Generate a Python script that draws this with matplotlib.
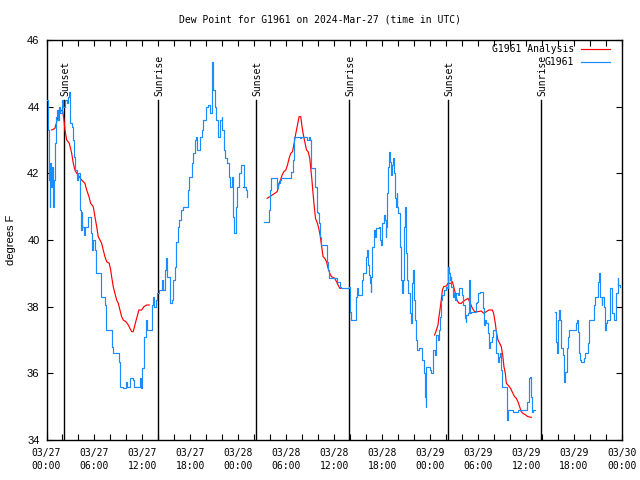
import matplotlib
matplotlib.use("Agg")
import matplotlib.pyplot as plt
from matplotlib.ticker import MultipleLocator
import numpy as np

# ---------------- data (hours since 2024-03-27 00:00 UTC, degrees F) -------------
obs1_h = [0.05, 0.2, 0.3, 0.4, 0.5, 0.6, 0.7, 0.8, 0.9, 1.05, 1.15, 1.3, 1.45, 1.6, 1.75, 1.9, 2.05,
          2.3, 2.55, 2.7, 2.8, 2.95, 3.0, 3.15, 3.3, 3.45, 3.6, 3.8, 3.95, 4.15, 4.2, 4.35, 4.45, 4.5,
          4.65, 4.8, 5.2, 5.45, 5.55, 5.65, 5.85, 6.05, 6.2, 6.7, 6.8, 7.2, 7.3, 7.45, 7.9, 8.15, 8.3,
          9.0, 9.1, 9.2, 9.6, 9.9, 10.1, 10.45, 10.85, 10.98, 11.5, 11.7, 11.8, 12.0, 12.2, 12.45,
          12.6, 12.95, 13.15, 13.3, 13.45, 13.7, 13.85, 14.1, 14.4, 14.6, 14.8, 15.0, 15.1, 15.45,
          15.65, 15.85, 16.05, 16.25, 16.45, 16.6, 16.85, 17.05, 17.5, 17.65, 17.85, 18.15, 18.35,
          18.55, 18.75, 18.85, 19.15, 19.4, 19.6, 19.9, 20.2, 20.45, 20.65, 20.85, 21.05, 21.25,
          21.45, 21.7, 21.9, 22.0, 22.2, 22.3, 22.6, 22.8, 23.0, 23.2, 23.35, 23.5, 23.65, 23.8,
          24.05, 24.3, 24.5, 24.7, 24.9, 25.05]
obs1_v = [44.2, 43.3, 41.8, 41.0, 42.3, 41.6, 42.2, 41.0, 41.8, 42.9, 43.7, 43.9, 43.6, 44.0, 43.8, 44.2, 44.0,
          44.2, 44.1, 44.3, 44.45, 44.2, 43.5, 43.4, 43.0, 42.5, 42.1, 41.8, 42.0, 41.7, 40.9, 40.3, 40.85, 40.4,
          40.15, 40.4, 40.7, 40.7, 40.2, 39.7, 40.0, 39.7, 39.0, 39.0, 38.3, 38.3, 38.05, 37.3, 37.3, 36.8, 36.6,
          36.6, 36.35, 35.6, 35.55, 35.75, 35.6, 35.85, 35.8, 35.6, 35.6, 35.85, 35.55, 36.15, 37.1, 37.6,
          37.3, 37.3, 38.05, 38.3, 38.0, 38.2, 38.4, 38.5, 38.8, 38.5, 39.1, 39.45, 38.9, 38.1,
          38.2, 38.8, 39.2, 39.95, 40.4, 40.6, 40.9, 41.0, 41.0, 41.5, 41.9, 42.3, 42.6,
          43.0, 43.1, 42.7, 43.1, 43.3, 43.6, 44.0, 44.05, 43.8, 45.35, 44.5, 44.0, 43.6,
          43.1, 43.6, 43.7, 43.3, 42.7, 42.45, 42.3, 41.9, 41.6, 41.9, 40.7, 40.2, 41.0, 41.6,
          42.0, 42.25, 42.25, 41.6, 41.5, 41.3]

obs2_h = [27.19, 27.73, 27.81, 27.94, 28.03, 28.56, 28.78, 28.9, 29.0, 29.19, 29.4, 29.81, 30.44, 30.56,
          30.78, 30.85, 30.98, 31.48, 31.69, 31.9, 32.53, 32.63, 32.85, 32.94, 33.15, 33.48, 33.65,
          33.78, 33.98, 34.1, 34.19, 34.31, 34.81, 35.1, 35.23, 35.31, 36.19, 36.35, 36.69, 36.81,
          37.85, 37.94, 38.03, 38.15, 38.56, 38.69, 38.78, 38.9, 38.98, 39.19, 39.48, 39.6, 39.81,
          39.94, 40.03, 40.1, 40.23, 40.35, 40.48, 40.56, 40.65, 40.78, 40.94, 41.06, 41.28, 41.56,
          41.69, 41.9, 42.03, 42.19, 42.31, 42.44, 42.53, 42.65, 42.78, 42.85, 42.98, 43.1, 43.23,
          43.35, 43.48, 43.56, 43.69, 43.81, 43.9, 44.03, 44.19, 44.31, 44.44, 44.56, 44.73, 44.81,
          45.02, 45.1, 45.23, 45.44, 45.65, 45.78, 45.85, 45.98, 46.15, 46.28, 46.4, 46.56, 46.9,
          47.03, 47.19, 47.31, 47.44, 47.53, 47.73, 47.94, 48.15, 48.35, 48.56, 48.69, 48.98, 49.1,
          49.28, 49.4, 49.53, 49.69, 49.94, 50.12, 50.23, 50.35, 50.44, 50.56, 50.65, 50.85, 50.94,
          51.06, 51.28, 51.48, 51.6, 51.81, 51.94, 52.1, 52.31, 52.44, 52.53, 52.73, 52.85, 52.94,
          53.15, 53.56, 53.69, 53.85, 54.03, 54.19, 54.53, 54.6, 54.73, 54.9, 55.03, 55.23, 55.35,
          55.53, 55.69, 55.9, 56.19, 56.28, 56.48, 56.6, 56.78, 56.9, 57.03, 57.44, 57.6, 57.73,
          58.35, 58.78, 58.98, 59.81, 60.15, 60.31, 60.44, 60.56, 60.69, 60.85, 61.06]
obs2_v = [40.55, 40.55, 40.9, 41.5, 41.85, 41.85, 41.75, 41.55, 41.7, 41.8, 41.85, 41.85, 41.85, 42.05,
          42.1, 42.4, 43.1, 43.1, 43.05, 43.1, 43.1, 43.0, 43.1, 43.0, 42.15, 42.15, 41.6,
          40.85, 40.8, 40.5, 40.1, 39.85, 39.85, 39.35, 39.1, 38.85, 38.85, 38.75, 38.6, 38.55,
          38.58, 38.3, 37.85, 37.6, 37.6, 37.85, 38.3, 38.55, 38.35, 38.35, 38.8, 39.0, 39.0,
          39.25, 39.5, 39.7, 39.25, 38.95, 38.7, 38.45, 38.9, 39.8, 40.3, 40.1, 40.35, 40.4,
          40.0, 39.85, 40.5, 40.75, 40.6, 40.1, 40.4, 41.4, 42.2, 42.65, 42.35, 41.95, 42.25,
          42.45, 42.0, 41.25, 41.0, 41.4, 41.0, 40.8, 39.8, 38.8, 38.4, 38.8, 40.4, 41.0,
          39.6, 38.8, 38.4, 37.8, 37.5, 38.7, 39.1, 38.2, 37.6, 37.0, 36.7, 36.75, 36.75,
          36.4, 36.0, 35.3, 35.0, 36.2, 36.2, 36.1, 36.0, 36.7, 36.55, 37.15, 37.0, 37.3,
          37.7, 38.2, 38.35, 38.5, 38.6, 38.55, 39.2, 39.0, 38.8, 38.9, 38.6, 38.3, 38.4,
          38.2, 38.4, 38.35, 38.55, 38.55, 38.35, 38.05, 37.65, 37.55, 37.75, 37.8, 38.8, 37.8,
          37.85, 37.85, 38.1, 38.15, 38.4, 38.45, 38.45, 37.95, 37.45, 37.6, 37.5, 37.2, 36.75,
          36.95, 37.1, 37.3, 37.3, 36.6, 36.35, 36.5, 36.6, 36.1, 35.6, 35.6, 34.6, 34.9,
          34.85, 34.85, 34.9, 34.9, 35.15, 35.85, 35.9, 35.3, 34.85, 34.9, 34.9]

obs3_h = [63.56, 63.69, 63.85, 63.98, 64.1, 64.28, 64.4, 64.56, 64.69, 64.78, 64.85, 64.94, 65.06, 65.19,
          65.35, 66.06, 66.19, 66.35, 66.48, 66.6, 66.78, 66.9, 67.1, 67.23, 67.35, 67.6, 67.73, 67.85,
          68.28, 68.44, 68.6, 68.78, 68.94, 69.06, 69.19, 69.31, 69.44, 69.56, 69.69, 69.85, 69.98,
          70.1, 70.31, 70.44, 70.56, 70.69, 70.81, 70.98, 71.19, 71.31, 71.44, 71.56, 71.69]
obs3_v = [37.85, 36.95, 36.6, 37.6, 37.9, 37.6, 36.75, 36.55, 36.3, 35.75, 36.05, 36.05, 36.75, 37.1,
          37.3, 37.3, 37.5, 37.6, 37.25, 36.6, 36.4, 36.35, 36.35, 36.45, 36.6, 36.6, 36.9, 37.6,
          37.6, 38.05, 38.3, 38.3, 38.75, 39.0, 38.6, 38.3, 38.05, 38.3, 38.0, 37.3, 37.5,
          37.6, 37.6, 37.8, 38.55, 38.3, 37.8, 37.6, 37.6, 38.4, 38.85, 38.65, 38.6]

ana1_h = [0.65, 1.06, 1.28, 1.47, 1.78, 2.03, 2.19, 2.31, 2.53, 2.85, 3.15, 3.35, 3.56, 3.78, 4.1, 4.4,
          4.81, 5.03, 5.31, 5.53, 5.85, 6.06, 6.28, 6.47, 6.69, 6.9, 7.1, 7.31, 7.53, 7.85, 8.03, 8.15,
          8.35, 8.56, 8.78, 8.98, 9.19, 9.4, 9.6, 9.94, 10.23, 10.44, 10.65, 10.85, 11.06, 11.28,
          11.56, 11.9, 12.19, 12.53, 12.85]
ana1_v = [43.3, 43.35, 43.55, 43.75, 43.9, 43.85, 43.6, 43.3, 43.0, 42.9, 42.6, 42.3, 42.1, 42.0, 41.9, 41.8,
          41.7, 41.5, 41.3, 41.1, 41.0, 40.7, 40.4, 40.1, 40.0, 39.9, 39.7, 39.5, 39.35, 39.3, 39.1, 38.9,
          38.6, 38.4, 38.2, 38.1, 37.9, 37.7, 37.6, 37.55, 37.45, 37.35, 37.25, 37.25, 37.45, 37.65,
          37.9, 37.9, 38.0, 38.05, 38.05]

ana2_h = [24.6, 24.8]
ana2_v = [41.6, 41.6]

ana3_h = [27.6, 27.94, 28.23, 28.56, 28.85, 28.98, 29.1, 29.28, 29.48, 29.69, 29.94, 30.15, 30.35, 30.56,
          30.78, 30.98, 31.19, 31.4, 31.6, 31.81, 31.94, 32.1, 32.31, 32.53, 32.73, 32.94, 33.06, 33.19,
          33.31, 33.44, 33.65, 33.9, 34.06, 34.23, 34.4, 34.6, 34.81, 35.03, 35.23, 35.44, 35.65,
          36.06, 36.28, 36.48, 36.69, 36.81]
ana3_v = [41.25, 41.3, 41.35, 41.4, 41.45, 41.55, 41.7, 41.8, 41.95, 42.05, 42.1, 42.25, 42.45, 42.6,
          42.65, 42.9, 43.2, 43.45, 43.7, 43.7, 43.45, 43.2, 42.95, 42.7, 42.65, 42.45, 42.15, 41.85,
          41.5, 41.15, 40.65, 40.5, 40.35, 40.15, 39.85, 39.5, 39.45, 39.35, 39.15, 39.0, 38.9,
          38.85, 38.75, 38.65, 38.55, 38.55]

ana4_h = [48.56, 48.78, 48.98, 49.1, 49.28, 49.44, 49.53, 49.69, 50.03, 50.23, 50.65, 50.78, 50.94, 51.15,
          51.35, 51.6, 51.9, 52.1, 52.4, 52.73, 53.03, 53.28, 53.56, 53.98, 54.4, 54.69, 55.03, 55.35,
          55.78, 55.94, 56.15, 56.28, 56.48, 56.69, 56.9, 57.1, 57.23, 57.4, 57.53, 57.73, 58.06,
          58.35, 58.56, 58.78, 58.98, 59.19, 59.4, 59.6, 59.94, 60.23, 60.65]
ana4_v = [37.15, 37.3, 37.45, 37.7, 38.0, 38.3, 38.5, 38.6, 38.62, 38.7, 38.7, 38.75, 38.6, 38.4,
          38.2, 38.1, 38.1, 38.15, 38.2, 38.25, 38.1, 37.95, 37.85, 37.85, 37.87, 37.8, 37.85, 37.9,
          37.9, 37.8, 37.5, 37.25, 37.0, 36.9, 36.8, 36.5, 36.2, 36.0, 35.7, 35.65, 35.55,
          35.4, 35.3, 35.25, 35.15, 35.0, 34.85, 34.8, 34.75, 34.7, 34.68]

sun_hours = [2.22, 13.97, 26.25, 37.85, 50.25, 61.85]
sun_labels = ["Sunset", "Sunrise", "Sunset", "Sunrise", "Sunset", "Sunrise"]

tick_hours = [0, 6, 12, 18, 24, 30, 36, 42, 48, 54, 60, 66, 72]
tick_labels = ["03/27\n00:00", "03/27\n06:00", "03/27\n12:00", "03/27\n18:00",
               "03/28\n00:00", "03/28\n06:00", "03/28\n12:00", "03/28\n18:00",
               "03/29\n00:00", "03/29\n06:00", "03/29\n12:00", "03/29\n18:00",
               "03/30\n00:00"]
y_ticks = [34, 36, 38, 40, 42, 44, 46]

title = "Dew Point for G1961 on 2024-Mar-27 (time in UTC)"
ylabel = "degrees F"
legend_labels = ["G1961 Analysis", "G1961"]

# ---------------- drawing ----------------
MONO = "DejaVu Sans Mono"
SANS = "Liberation Sans"
RED = "#ff0000"
BLUE = "#1a8cff"
LW = 0.85

fig = plt.figure(figsize=(6.4, 4.8), dpi=100)
ax = fig.add_axes([46.5 / 640, 40 / 480, (622 - 46.5) / 640, 400 / 480])

for h, v in [(ana1_h, ana1_v), (ana2_h, ana2_v), (ana3_h, ana3_v), (ana4_h, ana4_v)]:
    ax.plot(h, v, color=RED, lw=LW, zorder=3)
for h, v in [(obs1_h, obs1_v), (obs2_h, obs2_v), (obs3_h, obs3_v)]:
    ax.plot(h, v, color=BLUE, lw=LW, drawstyle="steps-post", zorder=4)

for sh, lab in zip(sun_hours, sun_labels):
    ax.plot([sh, sh], [34, 44.2], color="black", lw=1.0, zorder=2)
    ax.text(sh + 0.15, 44.33, lab, rotation=90, ha="center", va="bottom",
            fontsize=7, family=MONO, color="black")

ax.set_xlim(0, 72)
ax.set_ylim(34, 46)
ax.set_xticks(tick_hours)
ax.set_xticklabels(tick_labels, family=MONO, fontsize=7, linespacing=1.3)
ax.xaxis.set_minor_locator(MultipleLocator(2))
ax.set_yticks(y_ticks)
ax.set_yticklabels([str(t) for t in y_ticks], family=SANS, fontsize=8)

ax.tick_params(axis="both", which="both", direction="in", top=True, right=True,
               length=4, width=0.8, color="black")
ax.tick_params(axis="x", which="major", pad=6)
ax.tick_params(axis="y", which="major", pad=5)
for s in ax.spines.values():
    s.set_linewidth(1.0)
    s.set_color("black")

fig.text(11 / 640, 0.5, ylabel, rotation=90, ha="center", va="center", family=SANS, fontsize=8)
fig.text(0.5, 1 - 20 / 480, title, ha="center", va="center", family=MONO, fontsize=7)

# legend (gnuplot style, top right inside)
tx = (574 - 46.5) / 575.5
lx0 = (581 - 46.5) / 575.5
lx1 = (610 - 46.5) / 575.5
for lab, col, yy in [(legend_labels[0], RED, (440 - 49) / 400), (legend_labels[1], BLUE, (440 - 62) / 400)]:
    ax.text(tx, yy, lab, transform=ax.transAxes, ha="right", va="center",
            family=MONO, fontsize=7, zorder=6)
    ax.plot([lx0, lx1], [yy, yy], transform=ax.transAxes, color=col, lw=LW, zorder=6)

fig.savefig("out.png", dpi=100)
